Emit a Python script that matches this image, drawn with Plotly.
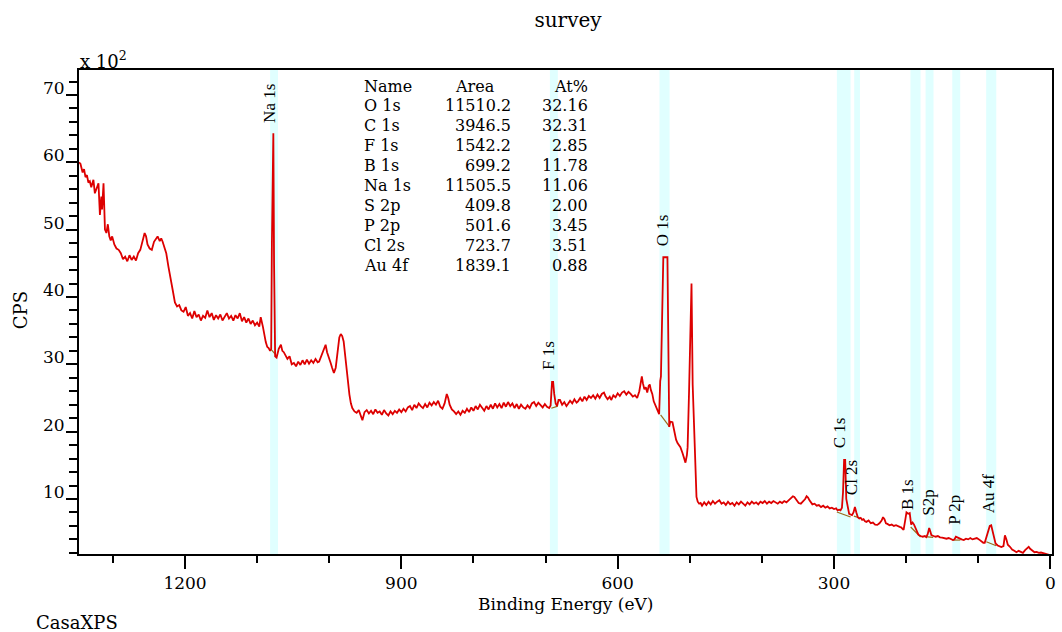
import plotly.graph_objects as go

# ---- survey spectrum: (binding energy eV, CPS) ----
survey_points = [
    (1347, 6000), (1345, 5980), (1342, 5850), (1340, 5900), (1338, 5780), (1336, 5810),
    (1334, 5700), (1332, 5720), (1330, 5630), (1327, 5740), (1325, 5540), (1323, 5600),
    (1320, 5690), (1318, 5220), (1316, 5490), (1315, 5300), (1313, 5690), (1311, 5000),
    (1309, 4950), (1307, 5080), (1305, 4900), (1303, 4840), (1301, 4900), (1298, 4780),
    (1295, 4720), (1292, 4700), (1289, 4650), (1286, 4560), (1283, 4600), (1280, 4530),
    (1277, 4620), (1274, 4550), (1271, 4600), (1268, 4540), (1265, 4650), (1262, 4700),
    (1259, 4850), (1256, 4950), (1254, 4900), (1252, 4780), (1249, 4720), (1246, 4700),
    (1243, 4820), (1240, 4860), (1238, 4900), (1235, 4830), (1233, 4870), (1231, 4820),
    (1229, 4750), (1226, 4650), (1223, 4450), (1220, 4250), (1217, 4100), (1214, 3920),
    (1211, 3860), (1208, 3880), (1205, 3800),
    (1202, 3780), (1199, 3850), (1196, 3720), (1193, 3760), (1190, 3680), (1187, 3790),
    (1184, 3700), (1181, 3740), (1178, 3650), (1175, 3720), (1172, 3690), (1169, 3800),
    (1166, 3700), (1163, 3760), (1160, 3660), (1157, 3730), (1154, 3680), (1151, 3740),
    (1148, 3650), (1145, 3700), (1142, 3760), (1139, 3680), (1136, 3720), (1133, 3650),
    (1130, 3730), (1127, 3680), (1124, 3760), (1121, 3640), (1118, 3700), (1115, 3620),
    (1112, 3680), (1109, 3600), (1106, 3650), (1103, 3580), (1100, 3620), (1097, 3560),
    (1095, 3700), (1092, 3560), (1090, 3410), (1088, 3330), (1086, 3260), (1084, 3240),
    (1082, 3200), (1080.5, 3230), (1079.5, 4800), (1078.5, 6430), (1077.5, 6430),
    (1076.5, 4500), (1075, 3120), (1073, 3100),
    (1072, 3160), (1070, 3230), (1067, 3290), (1065, 3200), (1063, 3180), (1060, 3110),
    (1058, 3080), (1055, 3120), (1052, 3000), (1049, 3020), (1046, 2970), (1043, 3040),
    (1040, 2990), (1037, 3060), (1034, 3000), (1031, 3070), (1028, 3010), (1025, 3060),
    (1022, 3020), (1019, 3080), (1016, 3030), (1014, 3040), (1011, 3120), (1008, 3200),
    (1005, 3290), (1003, 3180), (1000, 3100), (998, 3020), (996, 2950), (993.5, 2870),
    (991, 2950), (988, 3250), (986, 3400), (984, 3450), (982, 3420), (980, 3340),
    (977, 3050), (975, 2770), (972, 2550), (970, 2420), (968, 2350),
    (965, 2300), (962, 2280), (959, 2320), (957, 2260), (954, 2170), (951, 2290),
    (948, 2320), (945, 2270), (942, 2310), (939, 2260), (936, 2330), (933, 2280),
    (930, 2300), (927, 2250), (924, 2320), (921, 2270), (918, 2240), (915, 2300),
    (912, 2260), (909, 2310), (906, 2280), (903, 2330), (900, 2290), (897, 2340),
    (894, 2300), (891, 2360), (888, 2380), (885, 2320), (882, 2400), (879, 2350),
    (876, 2420), (873, 2380), (870, 2350), (867, 2410), (864, 2360), (861, 2430),
    (858, 2390), (855, 2440), (852, 2400), (849, 2460), (846, 2370), (843, 2340),
    (840, 2420), (837, 2560), (835, 2500), (833, 2400), (830, 2330), (827, 2300),
    (824, 2260), (821, 2300), (818, 2250), (815, 2310), (812, 2280), (809, 2340),
    (806, 2290), (803, 2360), (800, 2310), (797, 2380), (794, 2330), (791, 2400),
    (788, 2350), (785, 2310), (782, 2380), (779, 2330), (776, 2400), (773, 2340),
    (770, 2420), (767, 2360), (764, 2410), (761, 2350), (758, 2430), (755, 2370),
    (752, 2440), (749, 2380), (746, 2420), (743, 2350), (740, 2410), (737, 2340),
    (734, 2400), (731, 2360), (728, 2340), (725, 2390), (722, 2350), (719, 2420),
    (716, 2440), (713, 2380), (710, 2430), (707, 2390), (704, 2360), (701, 2410),
    (698, 2370), (695, 2350), (693, 2390), (691, 2740), (689.5, 2740), (688, 2560),
    (686, 2420), (684, 2380), (682, 2470),
    (680, 2470), (677, 2400), (674, 2440), (671, 2380), (669, 2410), (666, 2460),
    (663, 2420), (660, 2480), (657, 2430), (655, 2450), (652, 2500), (649, 2450),
    (646, 2520), (643, 2470), (640, 2530), (637, 2500), (634, 2540), (631, 2490),
    (628, 2550), (625, 2500), (622, 2560), (619, 2580), (617, 2530), (614, 2480),
    (611, 2520), (609, 2470), (606, 2540), (603, 2510), (600, 2570), (597, 2530),
    (594, 2580), (591, 2600), (588, 2550), (585, 2590), (582, 2560), (579, 2520),
    (576, 2540), (573, 2500), (570, 2600), (568, 2700), (566.5, 2820), (565, 2720),
    (563, 2630), (561, 2660), (559, 2580), (557, 2680), (555.5, 2700), (554, 2620),
    (552, 2560), (550, 2450), (548, 2400), (546, 2350), (544, 2280), (542.5, 2260),
    (541, 2750), (540, 2820), (536.7, 4590), (531, 4590), (528.5, 2070), (527, 2150),
    (524, 2140), (521, 1950), (519, 1880), (517, 1830), (515, 1800), (513, 1770),
    (510, 1680), (508, 1600), (506, 1540), (504, 1650), (503, 1770), (501, 2600),
    (497.6, 4200), (496, 2700), (494, 2020), (492, 1300), (490.7, 1030), (489, 960),
    (487, 930), (485, 940),
    (483, 900), (480, 950), (477, 910), (474, 960), (471, 920), (468, 970),
    (465, 930), (462, 960), (459, 980), (456, 930), (453, 950), (450, 910),
    (447, 960), (444, 920), (441, 940), (438, 900), (435, 950), (432, 920),
    (429, 960), (426, 930), (423, 900), (420, 950), (417, 920), (414, 960),
    (411, 930), (408, 950), (405, 920), (402, 960), (399, 940), (396, 970),
    (393, 930), (390, 960), (387, 940), (384, 970), (381, 950), (378, 930),
    (375, 960), (372, 940), (369, 970), (366, 950), (363, 980), (360, 1010),
    (357, 1040), (355, 1030), (353, 1000), (351, 960), (349, 940), (346, 930),
    (343, 960), (340, 1000), (338, 1040), (336, 1020), (334, 980), (332, 940),
    (330, 920), (327, 930), (324, 900), (321, 910), (318, 880), (315, 900),
    (312, 870), (309, 890), (306, 860), (303, 870), (300, 850), (297, 860),
    (295, 830), (293, 840), (291, 830), (289, 870), (287.5, 1100), (286, 1580),
    (284.5, 1580), (283, 1000), (281, 880), (279, 780), (277, 770), (275, 760),
    (273, 800), (271, 880), (269, 800), (267, 730), (265, 710), (263, 720),
    (261, 690), (259, 700), (257, 670), (255, 660), (252, 680), (249, 640),
    (246, 650), (243, 620), (240, 615), (237, 640), (234, 680), (232, 730),
    (230, 700), (228, 640), (226, 630), (223, 610), (220, 620), (217, 600),
    (214, 610), (211, 590), (209, 585), (207, 580), (205, 560), (203.5, 540),
    (201, 700), (199.5, 800), (197, 780), (195, 790), (193, 620), (191, 650),
    (189, 620), (187, 560), (185, 500), (183, 470), (180, 450), (177, 440),
    (174, 450), (172, 435), (170, 480), (168, 570), (166.5, 520), (165, 465),
    (162, 450), (159, 440), (156, 450), (153, 430), (150, 425), (147, 420),
    (144, 410), (141, 420), (138, 400), (135, 390), (133, 400), (131, 440),
    (129, 430), (126, 410), (123, 400), (120, 390), (117, 410), (114, 400),
    (111, 420), (108, 400), (105, 415), (102, 420), (99, 400), (96, 380),
    (93, 350), (91, 350), (88, 450), (86, 540), (84, 600), (82, 610),
    (80, 520), (78, 400), (76, 340), (73, 310), (70, 290), (68, 285),
    (65, 300), (63, 460), (61, 400), (59, 320), (56, 290), (53, 250),
    (50, 230), (47, 210), (44, 230), (41, 220), (38, 200), (35, 240),
    (32, 280), (30, 290), (28, 260), (25, 230), (22, 210), (19, 215),
    (16, 200), (13, 205), (10, 195), (7, 190), (4, 180), (1, 170), (0, 165),
]
binding_energy = [p[0] for p in survey_points]
cps = [p[1] for p in survey_points]

# ---- quantification regions ----
region_names = ["Na 1s", "F 1s", "O 1s", "C 1s", "Cl 2s", "B 1s", "S2p", "P 2p", "Au 4f"]
region_lo = [1071, 683, 528, 277, 264, 180, 162, 125, 75]
region_hi = [1082, 694, 542, 296, 272, 194, 173, 136, 89]
label_be = [1083, 696, 538, 292, 275.5, 198, 170, 134, 86]
label_cps = [6554, 2887, 4730, 1727, 1029, 806, 717, 584, 762]
bg_start = [(1081, 3227), (692, 2347), (540.5, 2248), (296, 807), (272.5, 745),
            (193.7, 584), (174, 440), (135.8, 390), (88.8, 365)]
bg_end = [(1073, 3128), (683, 2380), (528, 2070), (277, 732), (264, 717),
          (179.9, 435), (162.4, 430), (124.7, 390), (75, 306)]

# ---- quantification table ----
table_names = ["O 1s", "C 1s", "F 1s", "B 1s", "Na 1s", "S 2p", "P 2p", "Cl 2s", "Au 4f"]
table_area = ["11510.2", "3946.5", "1542.2", "699.2", "11505.5", "409.8", "501.6", "723.7", "1839.1"]
table_at = ["32.16", "32.31", "2.85", "11.78", "11.06", "2.00", "3.45", "3.51", "0.88"]

SCALE = 100.0  # axis shows CPS x 10^2

W, H = 1062, 632
L, R, T, B = 79, 6, 70, 78
PW, PH = W - L - R, H - T - B


def px2x(px):
    return (px - L) / PW


def px2y(py):
    return (H - B - py) / PH


SERIF = "DejaVu Serif"
TIMES = "Liberation Serif"

fig = go.Figure()

shapes = []
for lo, hi in zip(region_lo, region_hi):
    shapes.append(dict(type="rect", xref="x", yref="paper", x0=hi, x1=lo, y0=0, y1=1,
                       fillcolor="#e0ffff", line=dict(width=0), layer="below"))

for (x0, y0), (x1, y1) in zip(bg_start, bg_end):
    fig.add_trace(go.Scatter(x=[x0, x1], y=[y0 / SCALE, y1 / SCALE], mode="lines",
                             line=dict(color="#9a6a1a", width=1.2), showlegend=False,
                             hoverinfo="skip"))

fig.add_trace(go.Scatter(x=binding_energy, y=[c / SCALE for c in cps], mode="lines",
                         line=dict(color="#dd0000", width=1.8), showlegend=False,
                         name="survey"))

ann = []
for name, xb, yc in zip(region_names, label_be, label_cps):
    ann.append(dict(x=xb, y=yc / SCALE, xref="x", yref="y", text=name, showarrow=False,
                    textangle=-90, xanchor="center", yanchor="bottom",
                    font=dict(family=TIMES, size=17, color="black")))

TF = 16
row_y = [86] + [105.5 + 19.95 * i for i in range(len(table_names))]
ann.append(dict(x=px2x(363), y=px2y(row_y[0]), xref="paper", yref="paper", text="Name",
                showarrow=False, xanchor="left", yanchor="middle",
                font=dict(family=SERIF, size=TF, color="black")))
ann.append(dict(x=px2x(499), y=px2y(row_y[0]), xref="paper", yref="paper", text="Area",
                showarrow=False, xanchor="right", yanchor="middle",
                font=dict(family=SERIF, size=TF, color="black")))
ann.append(dict(x=px2x(592), y=px2y(row_y[0]), xref="paper", yref="paper", text="At%",
                showarrow=False, xanchor="right", yanchor="middle",
                font=dict(family=SERIF, size=TF, color="black")))
for i, (n, a, p) in enumerate(zip(table_names, table_area, table_at)):
    yy = px2y(row_y[i + 1])
    ann.append(dict(x=px2x(363), y=yy, xref="paper", yref="paper", text=n, showarrow=False,
                    xanchor="left", yanchor="middle", font=dict(family=SERIF, size=TF, color="black")))
    ann.append(dict(x=px2x(515), y=yy, xref="paper", yref="paper", text=a, showarrow=False,
                    xanchor="right", yanchor="middle", font=dict(family=SERIF, size=TF, color="black")))
    ann.append(dict(x=px2x(592), y=yy, xref="paper", yref="paper", text=p, showarrow=False,
                    xanchor="right", yanchor="middle", font=dict(family=SERIF, size=TF, color="black")))

ann.append(dict(x=px2x(78), y=px2y(60), xref="paper", yref="paper", text="x 10<sup>2</sup>",
                showarrow=False, xanchor="left", yanchor="middle",
                font=dict(family=SERIF, size=18, color="black")))
ann.append(dict(x=px2x(20), y=px2y(310), xref="paper", yref="paper", text="CPS",
                showarrow=False, textangle=-90, xanchor="center", yanchor="middle",
                font=dict(family=SERIF, size=18, color="black")))
ann.append(dict(x=px2x(568), y=px2y(604), xref="paper", yref="paper", text="Binding Energy (eV)",
                showarrow=False, xanchor="center", yanchor="middle",
                font=dict(family=SERIF, size=17, color="black")))
ann.append(dict(x=px2x(34), y=px2y(622), xref="paper", yref="paper", text="CasaXPS",
                showarrow=False, xanchor="left", yanchor="middle",
                font=dict(family=SERIF, size=18, color="black")))

fig.update_layout(
    width=W, height=H,
    margin=dict(l=L, r=R, t=T, b=B),
    paper_bgcolor="white", plot_bgcolor="white",
    title=dict(text="survey", x=568 / W, y=1 - 20 / H, xref="container", yref="container",
               xanchor="center", yanchor="middle",
               font=dict(family=SERIF, size=20, color="black")),
    shapes=shapes,
    annotations=ann,
    showlegend=False,
    xaxis=dict(range=[1347, -2.3], tickmode="linear", tick0=0, dtick=300,
               ticks="outside", ticklen=13, tickwidth=2, tickcolor="black",
               minor=dict(tickmode="linear", tick0=0, dtick=100, ticks="outside",
                          ticklen=7, tickwidth=2, tickcolor="black"),
               showline=True, linecolor="black", linewidth=2, mirror=True,
               showgrid=False, zeroline=False, ticklabelstandoff=0,
               tickfont=dict(family=SERIF, size=17, color="black")),
    yaxis=dict(range=[183 / SCALE, 7371 / SCALE], tickmode="linear", tick0=0, dtick=10,
               ticks="outside", ticklen=11, tickwidth=2, tickcolor="black",
               minor=dict(tickmode="linear", tick0=0, dtick=2, ticks="outside",
                          ticklen=8, tickwidth=2, tickcolor="black"),
               showline=True, linecolor="black", linewidth=2, mirror=True,
               showgrid=False, zeroline=False, ticklabelshift=-7, ticklabelstandoff=-2,
               tickfont=dict(family=SERIF, size=17, color="black")),
)

fig.write_html("out.html")
